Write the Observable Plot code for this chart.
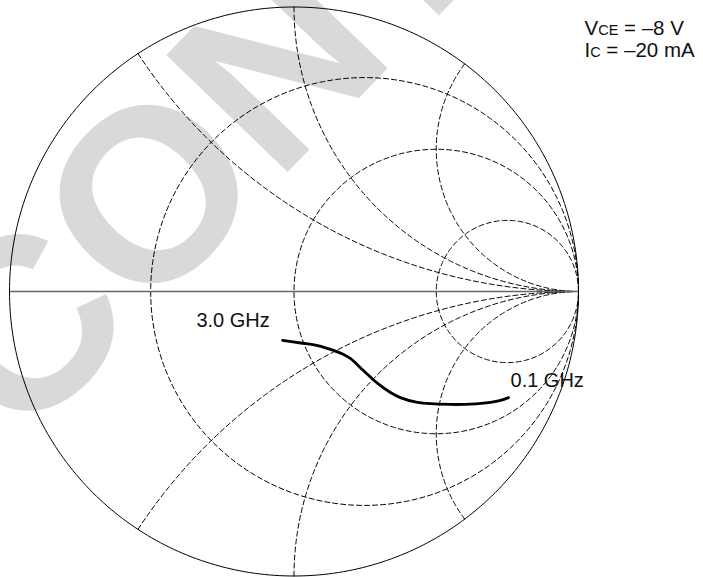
<!DOCTYPE html>
<html><head><meta charset="utf-8">
<script src="https://cdn.jsdelivr.net/npm/d3@7"></script>
<script src="https://cdn.jsdelivr.net/npm/@observablehq/plot@0.6"></script>
<style>body{margin:0;background:#fff;} #chart svg{display:block;}</style>
</head><body><div id="chart"></div>
<script>
// Smith chart grid values (normalized resistance / reactance)
const resistanceValues = [0.33, 1, 3];
const reactanceValues = [0.54, 1, 2, -0.54, -1, -2];

// Reflection coefficient trace, from 3.0 GHz down to 0.1 GHz (real, imaginary)
const traceRe = [-0.040, 0.023, 0.083, 0.139, 0.171, 0.199, 0.244, 0.294, 0.339, 0.374, 0.434, 0.550, 0.638, 0.691, 0.726, 0.754];
const traceIm = [-0.172, -0.181, -0.190, -0.207, -0.220, -0.236, -0.278, -0.323, -0.355, -0.373, -0.390, -0.397, -0.395, -0.390, -0.383, -0.373];

// Frequency labels
const freqLabels = ["3.0 GHz", "0.1 GHz"];
const freqLabelRe = [-0.343, 0.761];
const freqLabelIm = [-0.1265, -0.337];

// Bias condition text (main letter, small-cap suffix, remainder)
const biasMain = ["V", "I"];
const biasSub = ["CE", "C"];
const biasRest = ["= –8 V", "= –20 mA"];
const biasRe = [1.021];
const biasIm = [0.826];

// Watermark, split where it is anchored
const watermarkLeft = ["DISC"];
const watermarkRight = ["ONTINUED"];
const watermarkRe = [-0.726];
const watermarkIm = [0.088];

// ---- build geometry from the values ----
const outer = d3.range(0, 361, 1).map(a => ({re: Math.cos(a * Math.PI / 180), im: Math.sin(a * Math.PI / 180)}));

const rCircles = resistanceValues.flatMap(r => d3.range(0, 361, 1).map(a => {
  const c = r / (1 + r), rad = 1 / (1 + r), t = a * Math.PI / 180;
  return {key: "r" + r, re: c + rad * Math.cos(t), im: rad * Math.sin(t)};
}));

const xArcs = reactanceValues.flatMap(x => {
  const ax = Math.abs(x), s = Math.sign(x);
  const cy = 1 / ax, rad = 1 / ax;
  const bx = (ax * ax - 1) / (ax * ax + 1), by = 2 * ax / (ax * ax + 1);
  const a0 = Math.atan2(by - cy, bx - 1);
  const start = a0 < 0 ? a0 + 2 * Math.PI : a0;
  const end = 1.5 * Math.PI;
  return d3.range(0, 201).map(i => {
    const t = start + (end - start) * i / 200;
    return {key: "x" + x, re: 1 + rad * Math.cos(t), im: s * (cy + rad * Math.sin(t))};
  });
});

const trace = traceRe.map((re, i) => ({re, im: traceIm[i]}));
const labels = freqLabels.map((t, i) => ({t, re: freqLabelRe[i], im: freqLabelIm[i]}));
const biasText = [{
  t: biasMain.map((m, i) => m + biasSub[i] + " " + biasRest[i]).join("\n"),
  re: biasRe[0], im: biasIm[0]
}];
const wm = watermarkLeft.map((l, i) => ({l, r: watermarkRight[i], re: watermarkRe[i], im: watermarkIm[i]}));

const font = "'Liberation Sans', Arial, Helvetica, sans-serif";
const wmStyle = {x: "re", y: "im", rotate: -46, fontSize: 245, fontWeight: "bold", fill: "#d9d9d9", lineAnchor: "middle"};

const chart = Plot.plot({
  width: 703,
  height: 577,
  margin: 0,
  style: {background: "#fff", fontFamily: font, overflow: "hidden"},
  x: {domain: [-1, 1], range: [9, 578], axis: null},
  y: {domain: [-1, 1], range: [575.5, 6.5], axis: null},
  marks: [
    Plot.text(wm, {...wmStyle, text: "l", textAnchor: "end"}),
    Plot.text(wm, {...wmStyle, text: "r", textAnchor: "start"}),
    Plot.line(rCircles, {x: "re", y: "im", z: "key", stroke: "#000", strokeWidth: 1, strokeDasharray: "5,3"}),
    Plot.line(xArcs, {x: "re", y: "im", z: "key", stroke: "#000", strokeWidth: 1, strokeDasharray: "5,3"}),
    Plot.ruleY([0], {x1: -1, x2: 1, stroke: "#666", strokeWidth: 1.5}),
    Plot.line(outer, {x: "re", y: "im", stroke: "#000", strokeWidth: 1}),
    Plot.line(trace, {x: "re", y: "im", curve: "catmull-rom", stroke: "#000", strokeWidth: 2.8, strokeLinecap: "round"}),
    Plot.text(labels, {x: "re", y: "im", text: "t", fontSize: 20, textAnchor: "start", lineAnchor: "bottom", fill: "#111"}),
    Plot.text(biasText, {x: "re", y: "im", text: "t", fontSize: 20.5, lineHeight: 1.03, textAnchor: "start",
      lineAnchor: "bottom", fill: "#111"})
  ]
});
// render the small-cap suffixes (CE, C) smaller, on the same baseline
const ns = "http://www.w3.org/2000/svg";
chart.querySelectorAll("text").forEach(t => {
  if (!t.textContent.startsWith(biasMain[0] + biasSub[0])) return;
  const lines = t.querySelectorAll("tspan");
  lines.forEach((ln, i) => {
    ln.textContent = "";
    ln.appendChild(document.createTextNode(biasMain[i]));
    const sub = document.createElementNS(ns, "tspan");
    sub.setAttribute("font-size", "14.5");
    sub.style.fontSize = "14.5px";
    sub.textContent = biasSub[i];
    ln.appendChild(sub);
    ln.appendChild(document.createTextNode(" " + biasRest[i]));
  });
});
document.getElementById("chart").appendChild(chart);
</script>
</body></html>
